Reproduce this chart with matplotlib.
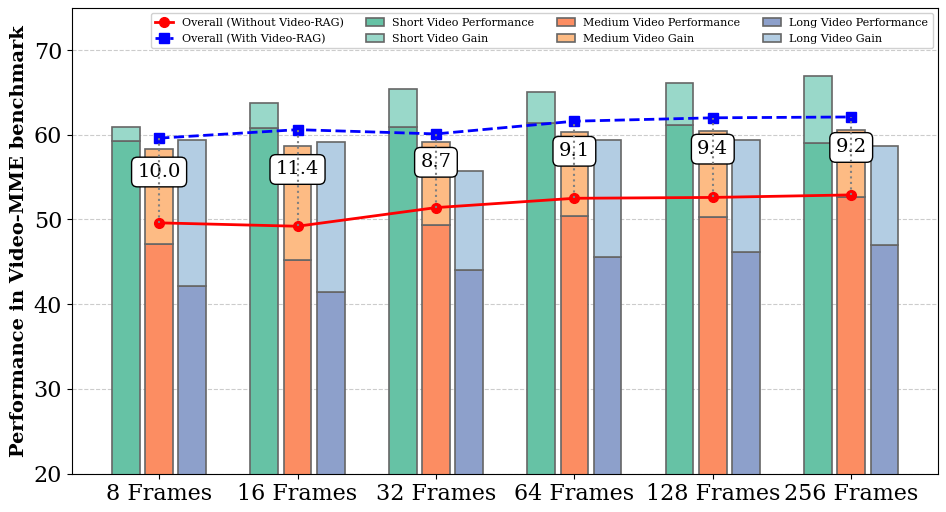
import numpy as np
from matplotlib import pyplot as plt

plt.rcParams['font.family'] = 'DejaVu Serif'

frames = ['8 Frames', '16 Frames', '32 Frames', '64 Frames', '128 Frames', '256 Frames']

short_base = [59.3, 60.8, 60.9, 61.4, 61.1, 59.0]
short_rag = [60.9, 63.8, 65.4, 65.0, 66.1, 66.9]
medium_base = [47.1, 45.2, 49.3, 50.4, 50.3, 52.7]
medium_rag = [58.3, 58.7, 59.1, 60.3, 60.4, 60.6]
long_base = [42.1, 41.4, 44.0, 45.6, 46.2, 47.0]
long_rag = [59.4, 59.1, 55.7, 59.4, 59.4, 58.7]

overall_base = [49.6, 49.2, 51.4, 52.5, 52.6, 52.9]
overall_rag = [59.6, 60.6, 60.1, 61.6, 62.0, 62.1]
gain_labels = ['10.0', '11.4', '8.7', '9.1', '9.4', '9.2']

x = np.arange(len(frames))
w = 0.2
off = 0.24
ec = '#666666'

fig, ax = plt.subplots(figsize=(9.46, 5.12), dpi=100)

sb = np.array(short_base)
mb = np.array(medium_base)
lb = np.array(long_base)

b1 = ax.bar(x - off, sb, w, color='#66c2a5', edgecolor=ec, linewidth=1.2, label='Short Video Performance', zorder=2)
b2 = ax.bar(x - off, np.array(short_rag) - sb, w, bottom=sb, color='#99d8c9', edgecolor=ec, linewidth=1.2, label='Short Video Gain', zorder=2)
b3 = ax.bar(x, mb, w, color='#fc8d62', edgecolor=ec, linewidth=1.2, label='Medium Video Performance', zorder=2)
b4 = ax.bar(x, np.array(medium_rag) - mb, w, bottom=mb, color='#fdbb84', edgecolor=ec, linewidth=1.2, label='Medium Video Gain', zorder=2)
b5 = ax.bar(x + off, lb, w, color='#8da0cb', edgecolor=ec, linewidth=1.2, label='Long Video Performance', zorder=2)
b6 = ax.bar(x + off, np.array(long_rag) - lb, w, bottom=lb, color='#b3cde3', edgecolor=ec, linewidth=1.2, label='Long Video Gain', zorder=2)

l1, = ax.plot(x, overall_base, color='red', marker='o', markersize=7, linewidth=2, label='Overall (Without Video-RAG)', zorder=4)
l2, = ax.plot(x, overall_rag, color='blue', marker='s', markersize=7, linewidth=2, linestyle='--', label='Overall (With Video-RAG)', zorder=4)

for i in range(len(x)):
    ax.plot([x[i], x[i]], [overall_base[i], overall_rag[i]], color='gray', linestyle=':', linewidth=1.5, zorder=6)
    mid = (overall_base[i] + overall_rag[i]) / 2 + 1
    ax.text(x[i], mid, gain_labels[i], ha='center', va='center', fontsize=14, zorder=5,
            bbox=dict(boxstyle='round,pad=0.3', facecolor='white', edgecolor='black', linewidth=1))

ax.set_ylim(20, 75)
ax.set_xlim(-0.63, 5.63)
ax.set_yticks([20, 30, 40, 50, 60, 70])
ax.set_xticks(x)
ax.set_xticklabels(frames)
ax.tick_params(axis='both', labelsize=16)
ax.set_ylabel('Performance in Video-MME benchmark', fontsize=14, fontweight='bold')
ax.yaxis.grid(True, linestyle='--', color='#cccccc', linewidth=0.8, zorder=0)
ax.set_axisbelow(True)

handles = [l1, l2, b1, b2, b3, b4, b5, b6]
ax.legend(handles, [hh.get_label() for hh in handles], ncol=4, loc='upper right', fontsize=8,
          handlelength=1.6, framealpha=0.9)

plt.subplots_adjust(left=0.076, right=0.992, top=0.985, bottom=0.075)
plt.savefig('out.png', dpi=100)
